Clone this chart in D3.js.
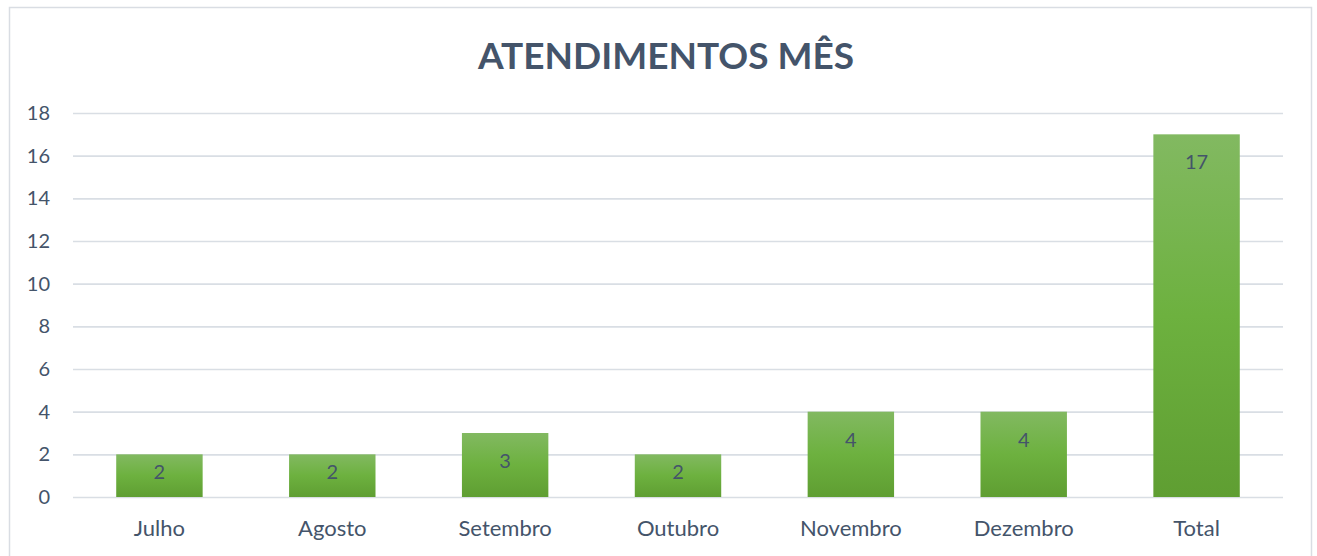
<!DOCTYPE html>
<html>
<head>
<meta charset="utf-8">
<script src="https://cdn.jsdelivr.net/npm/d3@7"></script>
<style>
  html, body { margin: 0; padding: 0; background: #fff; }
  svg { display: block; font-family: Lato, "Open Sans", sans-serif; }
</style>
</head>
<body>
<svg id="chart" width="1317" height="556"></svg>
<script>
// dados do gráfico
const months = ["Julho", "Agosto", "Setembro", "Outubro", "Novembro", "Dezembro", "Total"];
const counts = [2, 2, 3, 2, 4, 4, 17];
const yTicks = [0, 2, 4, 6, 8, 10, 12, 14, 16, 18];
const chartTitle = "ATENDIMENTOS MÊS";

const svg = d3.select("#chart");
const textColor = "#44546A";

// moldura da área do gráfico
svg.append("rect")
    .attr("x", 9.5)
    .attr("y", 7.5)
    .attr("width", 1302)
    .attr("height", 570)
    .attr("fill", "#fff")
    .attr("stroke", "#d9dde3")
    .attr("stroke-width", 1.5);

// escalas
const x = d3.scaleBand()
    .domain(months)
    .range([73, 1283])
    .paddingInner(0.5)
    .paddingOuter(0.25);

const y = d3.scaleLinear()
    .domain([0, 18])
    .range([497, 113]);

// gradiente das barras
const grad = svg.append("defs")
    .append("linearGradient")
    .attr("id", "barGrad")
    .attr("x1", 0).attr("y1", 0)
    .attr("x2", 0).attr("y2", 1);
grad.append("stop").attr("offset", "0%").attr("stop-color", "#82b961");
grad.append("stop").attr("offset", "50%").attr("stop-color", "#6db13f");
grad.append("stop").attr("offset", "100%").attr("stop-color", "#5f9e32");

// linhas de grade + rótulos do eixo Y
const yAxis = d3.axisLeft(y)
    .tickValues(yTicks)
    .tickSize(-(1283 - 73))
    .tickPadding(23);

const yg = svg.append("g")
    .attr("transform", "translate(73,0)")
    .call(yAxis);
yg.select(".domain").remove();
yg.selectAll(".tick line")
    .attr("stroke", "#d9dee4")
    .attr("stroke-width", 1.6);
yg.selectAll(".tick text")
    .attr("fill", textColor)
    .attr("font-size", 20)
    .attr("font-family", "Lato, sans-serif");

// barras
svg.append("g")
    .selectAll("rect")
    .data(counts)
    .enter()
    .append("rect")
    .attr("x", (d, i) => x(months[i]))
    .attr("y", (d) => y(d))
    .attr("width", x.bandwidth())
    .attr("height", (d) => y(0) - y(d))
    .attr("fill", "url(#barGrad)");

// rótulos de dados (dentro da barra, no topo)
svg.append("g")
    .selectAll("text")
    .data(counts)
    .enter()
    .append("text")
    .attr("x", (d, i) => x(months[i]) + x.bandwidth() / 2)
    .attr("y", (d) => Math.min(y(d) + 35, y(0) - 18))
    .attr("text-anchor", "middle")
    .attr("font-size", 20)
    .attr("fill", textColor)
    .text((d) => d);

// eixo X
const xg = svg.append("g")
    .attr("transform", "translate(0,497)")
    .call(d3.axisBottom(x).tickSize(0).tickPadding(0));
xg.select(".domain").remove();
xg.selectAll(".tick text")
    .attr("dy", null)
    .attr("y", 39)
    .attr("fill", textColor)
    .attr("font-size", 22)
    .attr("font-family", "Lato, sans-serif");

// título
svg.append("text")
    .attr("x", 666)
    .attr("y", 69)
    .attr("text-anchor", "middle")
    .attr("font-size", 37)
    .attr("font-weight", "bold")
    .attr("fill", textColor)
    .text(chartTitle);
</script>
</body>
</html>
